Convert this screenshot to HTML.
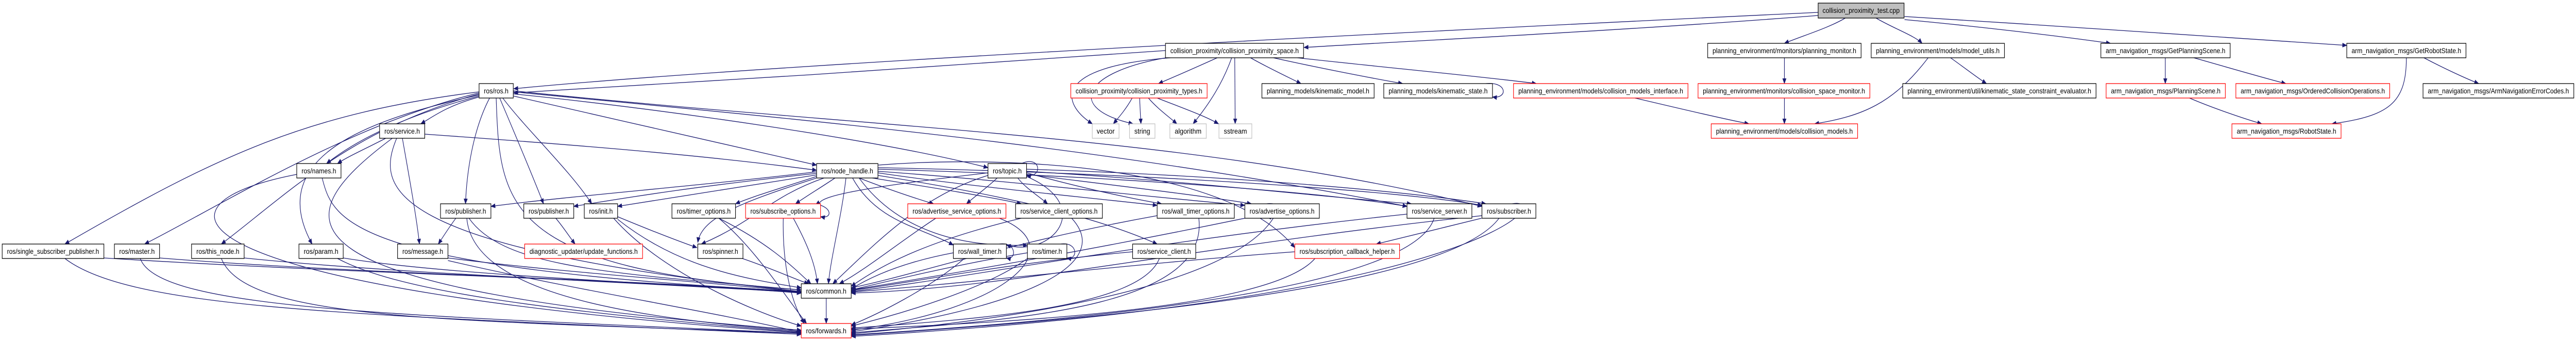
<!DOCTYPE html>
<html><head><meta charset="utf-8"><style>
html,body{margin:0;padding:0;background:#fff;width:100vw;height:100vh;overflow:hidden}
svg{display:block;width:100vw;height:100vh}
text{font-family:"Liberation Sans",sans-serif;font-size:14px;fill:#000}
.e{fill:none;stroke:#191970;stroke-width:1.3}
.n{fill:#fff;stroke:#000;stroke-width:1.3}
.r{fill:#fff;stroke:#ff0000;stroke-width:1.3}
.g{fill:#fff;stroke:#bfbfbf;stroke-width:1.3}
</style></head><body>
<svg viewBox="0 0 5877 659" preserveAspectRatio="none" xmlns="http://www.w3.org/2000/svg">
<defs><marker id="a" markerWidth="11" markerHeight="9" refX="10" refY="4.5" orient="auto" markerUnits="userSpaceOnUse"><path d="M0,0L11,4.5L0,9z" fill="#191970"/></marker></defs>
<g class="e" marker-end="url(#a)">
<path d="M4148,24 C3500,50 1800,120 1172,172"/>
<path d="M4148,30 C3700,60 3200,80 2975,92"/>
<path d="M4210,35 C4170,55 4110,70 4071,84"/>
<path d="M4280,35 C4320,55 4370,70 4385,84"/>
<path d="M4345,38 C4500,50 4700,70 4815,84"/>
<path d="M4345,32 C4700,50 5100,75 5354,88"/>
<path d="M2659,98 C2300,120 1600,160 1172,180"/>
<path d="M2777,112 C2730,130 2690,145 2643,162"/>
<path d="M2670,112 C2400,130 2420,200 2492,240"/>
<path d="M2660,112 C2470,140 2430,210 2585,240"/>
<path d="M2810,112 C2790,160 2760,200 2722,240"/>
<path d="M2817,112 C2817,160 2818,200 2818,240"/>
<path d="M2853,112 C2890,130 2940,150 2968,162"/>
<path d="M2905,112 C3000,130 3120,150 3200,162"/>
<path d="M2960,112 C3150,130 3400,150 3505,162"/>
<path d="M2583,190 C2570,210 2555,225 2540,240"/>
<path d="M2600,190 C2601,210 2602,225 2603,240"/>
<path d="M2620,190 C2640,210 2665,225 2685,240"/>
<path d="M2640,190 C2700,210 2750,225 2780,240"/>
<path d="M3390,162 C3440,158 3440,192 3405,188"/>
<path d="M3730,190 C3830,210 3930,230 3990,240"/>
<path d="M4071,112 L4071,162"/>
<path d="M4071,190 L4071,240"/>
<path d="M4399,112 C4320,200 4250,225 4140,240"/>
<path d="M4450,112 C4480,130 4510,150 4532,162"/>
<path d="M4940,112 L4940,162"/>
<path d="M5005,112 C5080,130 5160,150 5215,162"/>
<path d="M4995,190 C5050,210 5120,230 5160,240"/>
<path d="M5490,112 C5490,200 5450,225 5320,240"/>
<path d="M5530,112 C5570,130 5620,150 5655,162"/>
<path d="M1093,178 C700,220 500,300 148,473"/>
<path d="M1093,180 C800,240 500,400 330,473"/>
<path d="M1093,182 C800,250 650,380 505,473"/>
<path d="M1093,184 C850,230 600,300 712,473"/>
<path d="M1093,186 C900,230 800,280 745,317"/>
<path d="M1093,188 C1020,205 990,225 960,240"/>
<path d="M1117,190 C1080,250 1065,330 1062,395"/>
<path d="M1132,190 C1140,400 1150,520 1828,562"/>
<path d="M1140,190 C1170,250 1210,330 1240,395"/>
<path d="M1147,190 C1200,250 1300,330 1350,395"/>
<path d="M1171,186 C1400,230 1700,290 1863,320"/>
<path d="M1171,182 C1500,210 2000,270 2254,325"/>
<path d="M1171,178 C1800,230 2500,280 3210,400"/>
<path d="M1171,176 C2000,250 2700,260 3381,400"/>
<path d="M880,268 C830,290 790,305 770,317"/>
<path d="M918,268 C935,350 950,420 957,473"/>
<path d="M905,268 C860,360 860,480 1828,565"/>
<path d="M895,268 C640,430 600,560 1828,640"/>
<path d="M969,260 C1300,280 1600,300 1863,330"/>
<path d="M735,345 C760,430 800,520 1828,565"/>
<path d="M677,338 C300,400 400,560 1828,645"/>
<path d="M237,500 C800,530 1400,540 1828,568"/>
<path d="M148,501 C300,600 800,610 1828,648"/>
<path d="M364,500 C800,530 1400,540 1828,566"/>
<path d="M320,501 C360,600 900,610 1828,646"/>
<path d="M557,500 C900,530 1400,545 1828,567"/>
<path d="M505,501 C560,620 1000,620 1828,646"/>
<path d="M783,500 C1000,530 1400,545 1828,566"/>
<path d="M770,501 C900,560 1200,600 1828,644"/>
<path d="M1022,500 C1300,530 1600,545 1828,566"/>
<path d="M1022,505 C1300,560 1600,600 1828,644"/>
<path d="M1040,423 C1025,440 1010,460 1000,473"/>
<path d="M1070,423 C1150,520 1400,530 1828,562"/>
<path d="M1065,423 C1080,580 1500,620 1828,642"/>
<path d="M1268,423 C1285,440 1300,460 1312,473"/>
<path d="M1409,420 C1480,445 1540,465 1590,480"/>
<path d="M1409,425 C1550,520 1700,540 1828,558"/>
<path d="M1400,423 C1500,520 1700,600 1828,632"/>
<path d="M1690,500 C1760,520 1810,540 1845,550"/>
<path d="M1640,423 C1750,470 1800,510 1850,550"/>
<path d="M1640,423 C1720,480 1780,560 1840,627"/>
<path d="M1810,423 C1840,470 1860,510 1865,550"/>
<path d="M1787,423 C1785,500 1800,580 1835,627"/>
<path d="M1858,395 C1900,400 1900,425 1872,420"/>
<path d="M1885,578 L1885,627"/>
<path d="M1863,333 C1600,360 1300,380 1120,400"/>
<path d="M1863,336 C1600,360 1450,380 1309,400"/>
<path d="M1863,339 C1700,360 1550,380 1409,400"/>
<path d="M1863,342 C1780,365 1720,380 1678,395"/>
<path d="M1905,345 C1870,365 1840,380 1815,395"/>
<path d="M1930,345 C1920,420 1895,500 1890,550"/>
<path d="M1863,345 C1700,390 1600,420 1592,470"/>
<path d="M1880,345 C1760,380 1720,430 1600,473"/>
<path d="M1960,345 C2020,365 2090,385 2130,395"/>
<path d="M1990,345 C2100,360 2250,380 2330,395"/>
<path d="M2003,335 C2200,360 2450,380 2640,398"/>
<path d="M2003,332 C2300,350 2600,380 2840,398"/>
<path d="M2003,328 C2500,340 3000,370 3210,400"/>
<path d="M2003,325 C2600,335 3200,370 3381,398"/>
<path d="M1945,345 C2000,430 2100,440 2175,475"/>
<path d="M1960,345 C2050,450 2200,480 2344,475"/>
<path d="M2003,340 C2300,380 2500,420 2640,473"/>
<path d="M2275,345 C2250,365 2225,380 2205,395"/>
<path d="M2322,345 C2340,365 2370,380 2390,395"/>
<path d="M2342,335 C2450,360 2550,380 2650,395"/>
<path d="M2342,338 C2550,360 2750,380 2855,395"/>
<path d="M2342,332 C2700,350 3000,380 3220,395"/>
<path d="M2342,328 C2800,340 3200,370 3390,395"/>
<path d="M2330,317 C2375,300 2380,345 2342,340"/>
<path d="M2254,340 C2100,380 2000,470 1900,550"/>
<path d="M2342,342 C2500,400 2400,500 2296,475"/>
<path d="M2254,335 C2000,360 1850,380 1872,398"/>
<path d="M2135,423 C2050,470 1980,520 1915,550"/>
<path d="M2280,423 C2450,480 2300,600 1942,640"/>
<path d="M2330,423 C2100,470 2000,520 1942,555"/>
<path d="M2445,423 C2550,520 2300,600 1942,643"/>
<path d="M2640,418 C2300,470 2100,530 1942,558"/>
<path d="M2735,423 C2760,600 2300,620 1942,645"/>
<path d="M2840,423 C2400,500 2100,540 1942,562"/>
<path d="M2905,423 C2800,560 2300,620 1942,647"/>
<path d="M3210,415 C2600,470 2200,540 1942,565"/>
<path d="M3272,423 C3220,560 2500,620 1942,649"/>
<path d="M3381,418 C2700,480 2300,560 1942,568"/>
<path d="M3420,423 C3300,560 2500,620 1942,650"/>
<path d="M3380,423 C3300,440 3200,460 3140,473"/>
<path d="M3450,395 C3550,380 3400,580 1942,652"/>
<path d="M2890,395 C2930,390 2930,425 2890,420"/>
<path d="M2175,490 C2050,510 1980,540 1942,560"/>
<path d="M2200,501 C2120,560 2000,610 1942,630"/>
<path d="M2280,473 C2320,468 2320,505 2296,500"/>
<path d="M2344,490 C2200,510 2050,540 1942,562"/>
<path d="M2344,501 C2250,560 2050,610 1942,632"/>
<path d="M2420,473 C2460,468 2460,505 2434,500"/>
<path d="M2584,488 C2300,510 2100,545 1942,563"/>
<path d="M2645,501 C2600,600 2200,620 1942,636"/>
<path d="M2954,488 C2600,510 2200,550 1942,566"/>
<path d="M3000,501 C2900,600 2300,625 1942,638"/>
<path d="M2003,320 C2300,300 2800,320 2954,480"/>
</g>
<g>
<rect class="n" x="4148" y="6" width="196" height="29" style="fill:#bfbfbf"/>
<text x="4246" y="25" text-anchor="middle" textLength="176" lengthAdjust="spacingAndGlyphs">collision_proximity_test.cpp</text>
<rect class="n" x="2659" y="84" width="315" height="28"/><text x="2816.5" y="103" text-anchor="middle" textLength="293" lengthAdjust="spacingAndGlyphs">collision_proximity/collision_proximity_space.h</text>
<rect class="n" x="3896" y="84" width="350" height="28"/><text x="4071" y="103" text-anchor="middle" textLength="328" lengthAdjust="spacingAndGlyphs">planning_environment/monitors/planning_monitor.h</text>
<rect class="n" x="4269" y="84" width="304" height="28"/><text x="4421" y="103" text-anchor="middle" textLength="282" lengthAdjust="spacingAndGlyphs">planning_environment/models/model_utils.h</text>
<rect class="n" x="4793" y="84" width="295" height="28"/><text x="4940.5" y="103" text-anchor="middle" textLength="273" lengthAdjust="spacingAndGlyphs">arm_navigation_msgs/GetPlanningScene.h</text>
<rect class="n" x="5354" y="84" width="272" height="28"/><text x="5490" y="103" text-anchor="middle" textLength="250" lengthAdjust="spacingAndGlyphs">arm_navigation_msgs/GetRobotState.h</text>
<rect class="n" x="1093" y="162" width="78" height="28"/><text x="1132" y="181" text-anchor="middle" textLength="56" lengthAdjust="spacingAndGlyphs">ros/ros.h</text>
<rect class="r" x="2443" y="162" width="311" height="28"/><text x="2598.5" y="181" text-anchor="middle" textLength="289" lengthAdjust="spacingAndGlyphs">collision_proximity/collision_proximity_types.h</text>
<rect class="n" x="2879" y="162" width="256" height="28"/><text x="3007" y="181" text-anchor="middle" textLength="234" lengthAdjust="spacingAndGlyphs">planning_models/kinematic_model.h</text>
<rect class="n" x="3157" y="162" width="248" height="28"/><text x="3281" y="181" text-anchor="middle" textLength="226" lengthAdjust="spacingAndGlyphs">planning_models/kinematic_state.h</text>
<rect class="r" x="3453" y="162" width="398" height="28"/><text x="3652" y="181" text-anchor="middle" textLength="376" lengthAdjust="spacingAndGlyphs">planning_environment/models/collision_models_interface.h</text>
<rect class="r" x="3874" y="162" width="392" height="28"/><text x="4070" y="181" text-anchor="middle" textLength="370" lengthAdjust="spacingAndGlyphs">planning_environment/monitors/collision_space_monitor.h</text>
<rect class="n" x="4341" y="162" width="441" height="28"/><text x="4561.5" y="181" text-anchor="middle" textLength="419" lengthAdjust="spacingAndGlyphs">planning_environment/util/kinematic_state_constraint_evaluator.h</text>
<rect class="r" x="4805" y="162" width="272" height="28"/><text x="4941" y="181" text-anchor="middle" textLength="250" lengthAdjust="spacingAndGlyphs">arm_navigation_msgs/PlanningScene.h</text>
<rect class="r" x="5101" y="162" width="351" height="28"/><text x="5276.5" y="181" text-anchor="middle" textLength="329" lengthAdjust="spacingAndGlyphs">arm_navigation_msgs/OrderedCollisionOperations.h</text>
<rect class="n" x="5528" y="162" width="344" height="28"/><text x="5700" y="181" text-anchor="middle" textLength="322" lengthAdjust="spacingAndGlyphs">arm_navigation_msgs/ArmNavigationErrorCodes.h</text>
<rect class="n" x="866" y="240" width="103" height="28"/><text x="917.5" y="259" text-anchor="middle" textLength="81" lengthAdjust="spacingAndGlyphs">ros/service.h</text>
<rect class="g" x="2492" y="240" width="61" height="28"/><text x="2522.5" y="259" text-anchor="middle" textLength="41" lengthAdjust="spacingAndGlyphs">vector</text>
<rect class="g" x="2577" y="240" width="58" height="28"/><text x="2606" y="259" text-anchor="middle" textLength="36" lengthAdjust="spacingAndGlyphs">string</text>
<rect class="g" x="2669" y="240" width="83" height="28"/><text x="2710.5" y="259" text-anchor="middle" textLength="61" lengthAdjust="spacingAndGlyphs">algorithm</text>
<rect class="g" x="2781" y="240" width="75" height="28"/><text x="2818.5" y="259" text-anchor="middle" textLength="53" lengthAdjust="spacingAndGlyphs">sstream</text>
<rect class="r" x="3904" y="240" width="334" height="28"/><text x="4071" y="259" text-anchor="middle" textLength="312" lengthAdjust="spacingAndGlyphs">planning_environment/models/collision_models.h</text>
<rect class="r" x="5092" y="240" width="249" height="28"/><text x="5216.5" y="259" text-anchor="middle" textLength="227" lengthAdjust="spacingAndGlyphs">arm_navigation_msgs/RobotState.h</text>
<rect class="n" x="677" y="317" width="101" height="28"/><text x="727.5" y="336" text-anchor="middle" textLength="79" lengthAdjust="spacingAndGlyphs">ros/names.h</text>
<rect class="n" x="1863" y="317" width="140" height="28"/><text x="1933" y="336" text-anchor="middle" textLength="118" lengthAdjust="spacingAndGlyphs">ros/node_handle.h</text>
<rect class="n" x="2254" y="317" width="88" height="28"/><text x="2298" y="336" text-anchor="middle" textLength="66" lengthAdjust="spacingAndGlyphs">ros/topic.h</text>
<rect class="n" x="1005" y="395" width="115" height="28"/><text x="1062.5" y="414" text-anchor="middle" textLength="93" lengthAdjust="spacingAndGlyphs">ros/publisher.h</text>
<rect class="n" x="1195" y="395" width="114" height="28"/><text x="1252" y="414" text-anchor="middle" textLength="92" lengthAdjust="spacingAndGlyphs">ros/publisher.h</text>
<rect class="n" x="1333" y="395" width="76" height="28"/><text x="1371" y="414" text-anchor="middle" textLength="54" lengthAdjust="spacingAndGlyphs">ros/init.h</text>
<rect class="n" x="1533" y="395" width="145" height="28"/><text x="1605.5" y="414" text-anchor="middle" textLength="123" lengthAdjust="spacingAndGlyphs">ros/timer_options.h</text>
<rect class="r" x="1701" y="395" width="171" height="28"/><text x="1786.5" y="414" text-anchor="middle" textLength="149" lengthAdjust="spacingAndGlyphs">ros/subscribe_options.h</text>
<rect class="r" x="2071" y="395" width="224" height="28"/><text x="2183" y="414" text-anchor="middle" textLength="202" lengthAdjust="spacingAndGlyphs">ros/advertise_service_options.h</text>
<rect class="n" x="2317" y="395" width="198" height="28"/><text x="2416" y="414" text-anchor="middle" textLength="176" lengthAdjust="spacingAndGlyphs">ros/service_client_options.h</text>
<rect class="n" x="2640" y="395" width="176" height="28"/><text x="2728" y="414" text-anchor="middle" textLength="154" lengthAdjust="spacingAndGlyphs">ros/wall_timer_options.h</text>
<rect class="n" x="2840" y="395" width="170" height="28"/><text x="2925" y="414" text-anchor="middle" textLength="148" lengthAdjust="spacingAndGlyphs">ros/advertise_options.h</text>
<rect class="n" x="3210" y="395" width="148" height="28"/><text x="3284" y="414" text-anchor="middle" textLength="126" lengthAdjust="spacingAndGlyphs">ros/service_server.h</text>
<rect class="n" x="3381" y="395" width="123" height="28"/><text x="3442.5" y="414" text-anchor="middle" textLength="101" lengthAdjust="spacingAndGlyphs">ros/subscriber.h</text>
<rect class="n" x="5" y="473" width="232" height="28"/><text x="121" y="492" text-anchor="middle" textLength="210" lengthAdjust="spacingAndGlyphs">ros/single_subscriber_publisher.h</text>
<rect class="n" x="261" y="473" width="103" height="28"/><text x="312.5" y="492" text-anchor="middle" textLength="81" lengthAdjust="spacingAndGlyphs">ros/master.h</text>
<rect class="n" x="437" y="473" width="120" height="28"/><text x="497" y="492" text-anchor="middle" textLength="98" lengthAdjust="spacingAndGlyphs">ros/this_node.h</text>
<rect class="n" x="682" y="473" width="101" height="28"/><text x="732.5" y="492" text-anchor="middle" textLength="79" lengthAdjust="spacingAndGlyphs">ros/param.h</text>
<rect class="n" x="907" y="473" width="115" height="28"/><text x="964.5" y="492" text-anchor="middle" textLength="93" lengthAdjust="spacingAndGlyphs">ros/message.h</text>
<rect class="r" x="1197" y="473" width="269" height="28"/><text x="1331.5" y="492" text-anchor="middle" textLength="247" lengthAdjust="spacingAndGlyphs">diagnostic_updater/update_functions.h</text>
<rect class="n" x="1592" y="473" width="103" height="28"/><text x="1643.5" y="492" text-anchor="middle" textLength="81" lengthAdjust="spacingAndGlyphs">ros/spinner.h</text>
<rect class="n" x="2175" y="473" width="121" height="28"/><text x="2235.5" y="492" text-anchor="middle" textLength="99" lengthAdjust="spacingAndGlyphs">ros/wall_timer.h</text>
<rect class="n" x="2344" y="473" width="90" height="28"/><text x="2389" y="492" text-anchor="middle" textLength="68" lengthAdjust="spacingAndGlyphs">ros/timer.h</text>
<rect class="n" x="2584" y="473" width="144" height="28"/><text x="2656" y="492" text-anchor="middle" textLength="122" lengthAdjust="spacingAndGlyphs">ros/service_client.h</text>
<rect class="r" x="2954" y="473" width="239" height="28"/><text x="3073.5" y="492" text-anchor="middle" textLength="217" lengthAdjust="spacingAndGlyphs">ros/subscription_callback_helper.h</text>
<rect class="n" x="1828" y="550" width="114" height="28"/><text x="1885" y="569" text-anchor="middle" textLength="92" lengthAdjust="spacingAndGlyphs">ros/common.h</text>
<rect class="r" x="1828" y="627" width="114" height="28"/><text x="1885" y="646" text-anchor="middle" textLength="92" lengthAdjust="spacingAndGlyphs">ros/forwards.h</text>
</g>
</svg>
</body></html>
